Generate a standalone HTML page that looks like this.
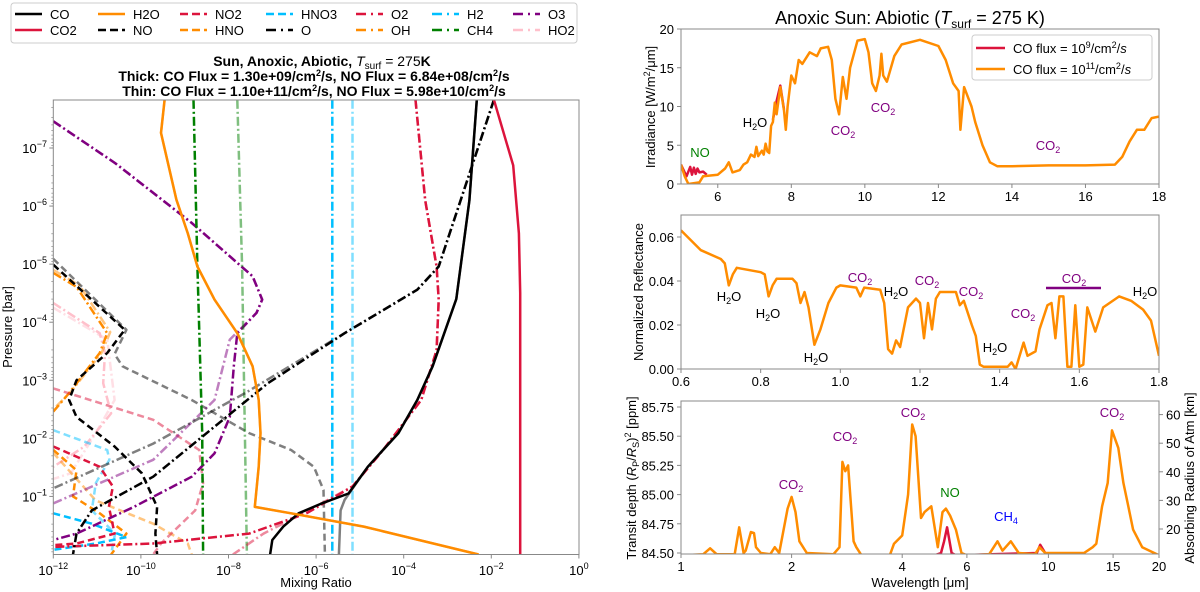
<!DOCTYPE html>
<html><head><meta charset="utf-8"><style>
html,body{margin:0;padding:0;background:#fff}
svg{display:block;font-family:"Liberation Sans","DejaVu Sans",sans-serif}
</style></head><body>
<svg id="fig" width="1200" height="592" viewBox="0 0 1200 592" xmlns="http://www.w3.org/2000/svg">
<defs>
<clipPath id="clipL"><rect x="53.3" y="100" width="525.7" height="454.5"/></clipPath>
<clipPath id="clipA"><rect x="681" y="29" width="478" height="155"/></clipPath>
<clipPath id="clipB"><rect x="681" y="215" width="478" height="154"/></clipPath>
<clipPath id="clipC"><rect x="681" y="401" width="478" height="153"/></clipPath>
</defs>
<g id="left-lines" clip-path="url(#clipL)"></g>
<g id="left-axes"></g>
<g id="rA" clip-path="url(#clipA)"></g>
<g id="rB" clip-path="url(#clipB)"></g>
<g id="rC" clip-path="url(#clipC)"></g>
<g id="raxes"></g>

<g>
<rect x="11" y="3" width="566" height="40" rx="3" fill="#fff" stroke="#ccc" stroke-width="1"/>
</g>
<g id="legend-items"></g>

<g font-weight="bold" font-size="14" text-anchor="middle">
<text x="322" y="66">Sun, Anoxic, Abiotic, <tspan font-style="italic" font-weight="normal">T</tspan><tspan font-size="10" dy="3" font-weight="normal">surf</tspan><tspan dy="-3" font-weight="normal"> = 275</tspan>K</text>
<text x="314" y="81">Thick: CO Flux = 1.30e+09/cm<tspan font-size="9" dy="-5">2</tspan><tspan dy="5">/s, NO Flux = 6.84e+08/cm</tspan><tspan font-size="9" dy="-5">2</tspan><tspan dy="5">/s</tspan></text>
<text x="314" y="96">Thin: CO Flux = 1.10e+11/cm<tspan font-size="9" dy="-5">2</tspan><tspan dy="5">/s, NO Flux = 5.98e+10/cm</tspan><tspan font-size="9" dy="-5">2</tspan><tspan dy="5">/s</tspan></text>
</g>
<text x="316" y="587" font-size="13" text-anchor="middle">Mixing Ratio</text>
<text transform="translate(12,327) rotate(-90)" font-size="13" text-anchor="middle">Pressure [bar]</text>

<text x="910" y="24" font-size="18" text-anchor="middle">Anoxic Sun: Abiotic (<tspan font-style="italic">T</tspan><tspan font-size="12" dy="4">surf</tspan><tspan dy="-4"> = 275 K)</tspan></text>
<text transform="translate(655,107) rotate(-90)" font-size="13" text-anchor="middle">Irradiance [W/m<tspan font-size="9" dy="-5">2</tspan><tspan dy="5">/μm]</tspan></text>
<text transform="translate(643,292) rotate(-90)" font-size="13" text-anchor="middle">Normalized Reflectance</text>
<text transform="translate(636,478) rotate(-90)" font-size="13" text-anchor="middle">Transit depth (<tspan font-style="italic">R</tspan><tspan font-size="9" dy="3">P</tspan><tspan dy="-3">/</tspan><tspan font-style="italic">R</tspan><tspan font-size="9" dy="3">S</tspan><tspan dy="-3">)</tspan><tspan font-size="9" dy="-5">2</tspan><tspan dy="5"> [ppm]</tspan></text>
<text transform="translate(1194,478) rotate(-90)" font-size="13" text-anchor="middle">Absorbing Radius of Atm [km]</text>
<text x="920" y="587" font-size="13" text-anchor="middle">Wavelength [μm]</text>

<g>
<rect x="972" y="35" width="180" height="45" rx="3" fill="#fff" stroke="#ccc"/>
<line x1="976" y1="48" x2="1005" y2="48" stroke="#dc143c" stroke-width="2.5"/>
<text x="1013" y="53" font-size="13">CO flux = 10<tspan font-size="9" dy="-5">9</tspan><tspan dy="5">/cm</tspan><tspan font-size="9" dy="-5">2</tspan><tspan dy="5">/</tspan><tspan font-style="italic">s</tspan></text>
<line x1="976" y1="69" x2="1005" y2="69" stroke="#ff8c00" stroke-width="2.5"/>
<text x="1013" y="74" font-size="13">CO flux = 10<tspan font-size="9" dy="-5">11</tspan><tspan dy="5">/cm</tspan><tspan font-size="9" dy="-5">2</tspan><tspan dy="5">/</tspan><tspan font-style="italic">s</tspan></text>
</g>

<g font-size="13" text-anchor="middle">
<text x="700" y="157" fill="#008000">NO</text>
<text x="755" y="127" fill="#000">H<tspan font-size="9" dy="3">2</tspan><tspan dy="-3">O</tspan></text>
<text x="843" y="135" fill="#800080">CO<tspan font-size="9" dy="3">2</tspan></text>
<text x="883" y="112" fill="#800080">CO<tspan font-size="9" dy="3">2</tspan></text>
<text x="1048" y="150" fill="#800080">CO<tspan font-size="9" dy="3">2</tspan></text>

<text x="729" y="301">H<tspan font-size="9" dy="3">2</tspan><tspan dy="-3">O</tspan></text>
<text x="768" y="318">H<tspan font-size="9" dy="3">2</tspan><tspan dy="-3">O</tspan></text>
<text x="816" y="362">H<tspan font-size="9" dy="3">2</tspan><tspan dy="-3">O</tspan></text>
<text x="860" y="282" fill="#800080">CO<tspan font-size="9" dy="3">2</tspan></text>
<text x="896" y="296">H<tspan font-size="9" dy="3">2</tspan><tspan dy="-3">O</tspan></text>
<text x="927" y="285" fill="#800080">CO<tspan font-size="9" dy="3">2</tspan></text>
<text x="971" y="296" fill="#800080">CO<tspan font-size="9" dy="3">2</tspan></text>
<text x="995" y="352">H<tspan font-size="9" dy="3">2</tspan><tspan dy="-3">O</tspan></text>
<text x="1023" y="318" fill="#800080">CO<tspan font-size="9" dy="3">2</tspan></text>
<text x="1074" y="283" fill="#800080">CO<tspan font-size="9" dy="3">2</tspan></text>
<line x1="1046" y1="288" x2="1101" y2="288" stroke="#800080" stroke-width="2.5"/>
<text x="1145" y="296">H<tspan font-size="9" dy="3">2</tspan><tspan dy="-3">O</tspan></text>

<text x="791" y="489" fill="#800080">CO<tspan font-size="9" dy="3">2</tspan></text>
<text x="845" y="441" fill="#800080">CO<tspan font-size="9" dy="3">2</tspan></text>
<text x="913" y="417" fill="#800080">CO<tspan font-size="9" dy="3">2</tspan></text>
<text x="950" y="497" fill="#008000">NO</text>
<text x="1006" y="521" fill="#0000ff">CH<tspan font-size="9" dy="3">4</tspan></text>
<text x="1112" y="417" fill="#800080">CO<tspan font-size="9" dy="3">2</tspan></text>
</g>
</svg>
<script>
// ===== Left panel data: log10(mixing ratio) and log10(pressure [bar]) =====
const CO_thick_lx=[-2.33,-2.5,-2.8,-3.34,-3.69,-4.12,-4.82,-5.26,-5.87,-6.4,-6.75,-7.0,-7.05];
const CO_thick_lp=[-7.83,-6.1,-4.4,-3.24,-2.66,-2.09,-1.51,-1.05,-0.88,-0.71,-0.48,-0.25,0];
const CO_thin_lx=[-2.33,-2.5,-2.8,-3.34,-3.69,-4.12,-4.82,-5.2,-5.35,-5.44,-5.48];
const CO_thin_lp=[-7.83,-6.1,-4.4,-3.24,-2.66,-2.09,-1.51,-1.1,-0.94,-0.76,0];
const CO2_lx=[-1.94,-1.5,-1.37,-1.34,-1.34];
const CO2_lp=[-7.83,-6.7,-5.53,-4.5,0];
const H2O_lx=[-9.46,-9.54,-9.19,-8.93,-8.71,-8.32,-7.8,-7.45,-7.31,-7.27,-7.31,-7.4,-6.57,-4.91,-2.29];
const H2O_lp=[-7.83,-7.26,-6.11,-5.53,-4.96,-4.39,-3.81,-3.24,-2.66,-2.09,-1.51,-0.82,-0.71,-0.48,0];
const NO_thick_lx=[-12,-10.37,-10.77,-11.47,-11.64,-11.47,-10.6,-9.98,-9.63,-9.67,-9.63];
const NO_thick_lp=[-4.99,-3.87,-3.47,-3.0,-2.66,-2.37,-1.86,-1.4,-0.82,-0.36,0];
const NO_thin_lx=[-12,-10.33,-10.6,-10.42,-8.84,-7.53,-6.57,-6.05,-5.83,-5.8];
const NO_thin_lp=[-5.09,-3.87,-3.45,-3.24,-2.66,-2.09,-1.8,-1.51,-1.11,0];
const NO2_thick_lx=[-12,-10.94,-10.64,-10.73,-10.6,-11.47,-12];
const NO2_thick_lp=[-1.86,-1.51,-1.17,-0.82,-0.36,-0.19,-0.16];
const NO2_thin_lx=[-12,-9.72,-8.67,-8.58,-8.76,-9.54,-9.72];
const NO2_thin_lp=[-2.86,-2.32,-1.8,-1.23,-0.76,-0.19,0];
const HNO_thick_lx=[-12,-11.47,-11.55,-10.94,-10.33,-10.68];
const HNO_thick_lp=[-1.8,-1.45,-1.0,-0.71,-0.36,0];
const HNO_thin_lx=[-12,-11.03,-9.72,-8.93,-8.84];
const HNO_thin_lp=[-1.75,-0.93,-0.53,-0.19,0];
const HNO3_thick_lx=[-12,-11.12,-10.33,-11.03,-12];
const HNO3_thick_lp=[-0.71,-0.53,-0.3,-0.19,-0.08];
const HNO3_thin_lx=[-12,-10.77,-10.72,-11.03,-11.12,-10.59,-10.68];
const HNO3_thin_lp=[-2.14,-1.8,-1.63,-1.23,-0.76,-0.36,0];
const O_thick_lx=[-1.94,-3.2,-3.69,-5.35,-7.1,-8.32,-9.72,-11.12,-11.47,-11.55];
const O_thick_lp=[-7.83,-4.96,-4.56,-3.81,-2.95,-2.2,-1.34,-0.76,-0.36,0];
const O_thin_lx=[-1.94,-3.2,-3.69,-5.35,-7.62,-9.72,-12];
const O_thin_lp=[-7.83,-4.96,-4.56,-3.81,-2.78,-1.91,-1.14];
const O2_thick_lx=[-3.73,-3.51,-3.25,-3.2,-3.25,-3.6,-4.47,-5.17,-6.22,-7.53,-9.72,-12];
const O2_thick_lp=[-7.83,-6.1,-4.96,-4.39,-3.52,-2.66,-1.8,-1.17,-0.71,-0.36,-0.19,-0.13];
const O2_thin_lx=[-3.73,-3.51,-3.25,-3.2,-3.25,-3.6,-4.47,-5.17,-6.3,-7.2,-7.9];
const O2_thin_lp=[-7.83,-6.1,-4.96,-4.39,-3.52,-2.66,-1.8,-1.17,-0.71,-0.36,0];
const OH_thick_lx=[-12,-11.47,-10.77,-10.94,-11.64,-12];
const OH_thick_lp=[-4.85,-4.61,-3.81,-3.47,-2.78,-2.46];
const OH_thin_lx=[-12,-11.4,-10.7,-10.9,-11.6,-12];
const OH_thin_lp=[-4.9,-4.63,-3.83,-3.47,-2.8,-2.5];
const H2_thick_lx=[-5.63,-5.63];
const H2_thick_lp=[-7.83,0];
const H2_thin_lx=[-5.17,-5.17];
const H2_thin_lp=[-7.83,0];
const CH4_thick_lx=[-8.8,-8.71,-8.6,-8.58];
const CH4_thick_lp=[-7.83,-4.96,-2.09,0];
const CH4_thin_lx=[-7.8,-7.69,-7.58];
const CH4_thin_lp=[-7.83,-4.96,0];
const O3_thick_lx=[-12,-10.59,-8.84,-7.45,-7.23,-7.36,-7.8,-7.88,-7.97,-8.32,-8.84,-10.16,-11.47,-12];
const O3_thick_lp=[-7.46,-6.74,-5.71,-4.79,-4.39,-4.16,-3.81,-3.24,-2.37,-1.74,-1.34,-0.82,-0.36,-0.25];
const O3_thin_lx=[-12,-10.59,-8.84,-7.45,-7.23,-7.36,-7.97,-8.32,-9.72,-12];
const O3_thin_lp=[-7.46,-6.74,-5.71,-4.79,-4.39,-4.16,-3.7,-2.66,-1.63,-0.88];
const HO2_thick_lx=[-12,-10.94,-10.82,-10.86,-10.68,-11.29,-12];
const HO2_thick_lp=[-4.33,-3.81,-3.47,-2.95,-2.43,-1.86,-1.51];
const HO2_thin_lx=[-12,-10.77,-10.6,-11.03,-11.6,-12];
const HO2_thin_lp=[-4.25,-3.7,-2.66,-2.09,-1.4,-1.3];

const xTickExp=[-12,-10,-8,-6,-4,-2,0];
const yTickExp=[-7,-6,-5,-4,-3,-2,-1];

// ===== Right panels data =====
const irrWl=[5.0,5.1,5.2,5.5,5.6,6.0,6.2,6.3,6.4,6.6,6.7,6.8,6.9,7.0,7.05,7.1,7.2,7.25,7.3,7.35,7.4,7.45,7.5,7.55,7.6,7.7,7.8,7.85,7.9,8.0,8.1,8.2,8.3,8.5,8.7,8.8,9.0,9.1,9.2,9.3,9.4,9.5,9.6,9.8,10.0,10.1,10.2,10.3,10.4,10.45,10.5,10.6,10.8,11.0,11.5,12.0,12.2,12.4,12.55,12.6,12.7,12.9,13.0,13.2,13.4,13.6,14,15,16,16.8,17.0,17.2,17.4,17.6,17.8,18];
const irrHigh=[2.5,1,0,0.2,1,1.2,2,2.8,1.5,1.8,2.5,2.8,3.8,3.5,4.8,3.6,4.3,3.8,5.2,4.2,4,7.5,8,10.5,9,12.5,9.5,7,10,14,13,16,15.5,17,16.5,17.5,17.7,16,11,9,13.8,11,15,18.5,18.7,17,13,12,14,16.8,14,13.2,16.5,18,18.6,17.8,16,13,12,7,12.5,10,8,5,2.8,2.3,2.3,2.4,2.4,2.5,3.5,5.5,7,7,8.5,8.7];
const irrLowWl1=[5.0,5.15,5.25,5.3,5.35,5.4,5.45,5.5,5.6,5.7];
const irrLow1=[2.5,1,2.2,1.2,2.1,1.3,2,1.5,1.6,1.2];
const irrLowWl2=[7.5,7.6,7.7,7.8];
const irrLow2=[8.3,10.7,12.7,9.6];

const refWl=[0.6,0.65,0.7,0.71,0.72,0.73,0.74,0.8,0.81,0.82,0.83,0.84,0.88,0.89,0.9,0.91,0.92,0.935,0.95,0.97,0.99,1.0,1.04,1.05,1.06,1.1,1.11,1.12,1.13,1.14,1.15,1.17,1.18,1.19,1.2,1.21,1.22,1.23,1.24,1.25,1.29,1.3,1.31,1.33,1.34,1.35,1.36,1.42,1.43,1.44,1.46,1.47,1.49,1.5,1.52,1.53,1.54,1.55,1.56,1.57,1.58,1.59,1.6,1.61,1.62,1.64,1.66,1.7,1.73,1.76,1.78,1.8];
const refVal=[0.063,0.054,0.050,0.048,0.038,0.043,0.046,0.044,0.043,0.033,0.038,0.041,0.041,0.039,0.03,0.035,0.028,0.011,0.018,0.03,0.037,0.038,0.037,0.033,0.037,0.036,0.03,0.009,0.007,0.013,0.01,0.028,0.030,0.032,0.03,0.014,0.03,0.018,0.032,0.035,0.035,0.029,0.031,0.02,0.015,0.002,0.001,0.001,0.003,0,0.012,0.006,0.008,0.018,0.029,0.03,0.014,0.033,0.033,0.001,0.001,0.029,0.001,0.002,0.028,0.017,0.028,0.033,0.031,0.027,0.022,0.006];

const trWl=[1.0,1.15,1.2,1.25,1.4,1.44,1.48,1.5,1.55,1.58,1.6,1.65,1.75,1.8,1.85,1.95,2.0,2.05,2.1,2.2,2.6,2.7,2.75,2.8,2.85,2.95,3.0,3.1,3.7,3.8,4.0,4.15,4.26,4.35,4.5,4.6,4.8,5.0,5.15,5.26,5.4,5.6,5.8,6.0,6.9,7.27,7.5,7.9,8.3,9.2,9.46,9.8,10.5,12.5,13.2,13.5,14.0,14.5,14.9,15.5,16.0,16.5,17.0,18.0,20];
const trHigh=[84.48,84.49,84.54,84.49,84.49,84.72,84.5,84.52,84.68,84.67,84.55,84.5,84.49,84.55,84.5,84.88,84.98,84.85,84.6,84.5,84.49,84.55,85.28,85.2,85.25,84.6,84.55,84.48,84.48,84.58,84.65,85.0,85.6,85.5,84.8,84.85,84.9,84.55,84.85,84.88,84.82,84.7,84.5,84.48,84.49,84.6,84.52,84.6,84.5,84.49,84.55,84.5,84.5,84.5,84.55,84.58,84.9,85.1,85.55,85.4,85.1,84.9,84.7,84.55,84.48];
const trLowWl=[4.9,5.1,5.2,5.3,5.45,5.6,9.3,9.5,9.8];
const trLow=[84.48,84.5,84.6,84.72,84.5,84.48,84.5,84.57,84.5];

const legendNames=["CO","CO2","H2O","NO","NO2","HNO","HNO3","O","O2","OH","H2","CH4","O3","HO2"];
const legendColors=["#000","#dc143c","#ff8c00","#000","#dc143c","#ff8c00","#00bfff","#000","#dc143c","#ff8c00","#00bfff","#008000","#800080","#ffc0cb"];
const legendStyles=["s","s","s","d","d","d","d","dd","dd","dd","dd","dd","dd","dd"];

const NS="http://www.w3.org/2000/svg";
function mk(tag,attrs,parent){const e=document.createElementNS(NS,tag);for(const k in attrs)e.setAttribute(k,attrs[k]);parent.appendChild(e);return e;}

const Lx=lx=>53.3+(lx+12)*43.8;
const Ly=lp=>148+(lp+7)*58.07;
const Ax=w=>681+(w-5)/13*478, Ay=v=>184-v*7.75;
const Bx=w=>681+(w-0.6)/1.2*478, By=v=>369-v*2200;
const Cx=w=>681+Math.log10(w)/Math.log10(20)*478, Cy=v=>553-(v-84.5)*116.8;
const Ckm=k=>529-(k-20)*2.86;

const dashMap={s:null,d:"7,4",dd:"9,3,2,3"};

const LL=document.getElementById('left-lines');
function drawLeft(lx,lp,color,style,thin,name){
  const d=lx.map((v,i)=>(i?'L':'M')+Lx(v).toFixed(1)+','+Ly(lp[i]).toFixed(1)).join('');
  const p=mk('path',{d:d,fill:'none',stroke:color,'stroke-width':2.5,'stroke-linejoin':'round'},LL);
  if(thin)p.setAttribute('stroke-opacity','0.5');
  if(dashMap[style])p.setAttribute('stroke-dasharray',dashMap[style]);
  
  
}
const series=[
 [HO2_thin_lx,HO2_thin_lp,"#ffc0cb","dd",1,"ho2-thin"],[HO2_thick_lx,HO2_thick_lp,"#ffc0cb","dd",0,"ho2-thick"],
 [OH_thin_lx,OH_thin_lp,"#ff8c00","dd",1,"oh-thin"],[OH_thick_lx,OH_thick_lp,"#ff8c00","dd",0,"oh-thick"],
 [HNO_thin_lx,HNO_thin_lp,"#ff8c00","d",1,"hno-thin"],[HNO_thick_lx,HNO_thick_lp,"#ff8c00","d",0,"hno-thick"],
 [HNO3_thin_lx,HNO3_thin_lp,"#00bfff","d",1,"hno3-thin"],[HNO3_thick_lx,HNO3_thick_lp,"#00bfff","d",0,"hno3-thick"],
 [NO2_thin_lx,NO2_thin_lp,"#dc143c","d",1,"no2-thin"],[NO2_thick_lx,NO2_thick_lp,"#dc143c","d",0,"no2-thick"],
 [NO_thin_lx,NO_thin_lp,"#000","d",1,"no-thin"],[NO_thick_lx,NO_thick_lp,"#000","d",0,"no-thick"],
 [O3_thin_lx,O3_thin_lp,"#800080","dd",1,"o3-thin"],[O3_thick_lx,O3_thick_lp,"#800080","dd",0,"o3-thick"],
 [CH4_thin_lx,CH4_thin_lp,"#008000","dd",1,"ch4-thin"],[CH4_thick_lx,CH4_thick_lp,"#008000","dd",0,"ch4-thick"],
 [H2_thin_lx,H2_thin_lp,"#00bfff","dd",1,"h2-thin"],[H2_thick_lx,H2_thick_lp,"#00bfff","dd",0,"h2-thick"],
 [O2_thin_lx,O2_thin_lp,"#dc143c","dd",1,"o2-thin"],[O2_thick_lx,O2_thick_lp,"#dc143c","dd",0,"o2-thick"],
 [O_thin_lx,O_thin_lp,"#000","dd",1,"o-thin"],[O_thick_lx,O_thick_lp,"#000","dd",0,"o-thick"],
 [CO_thin_lx,CO_thin_lp,"#000","s",1,"co-thin"],[CO_thick_lx,CO_thick_lp,"#000","s",0,"co-thick"],
 [H2O_lx,H2O_lp,"#ff8c00","s",1,"h2o-thin"],[H2O_lx,H2O_lp,"#ff8c00","s",0,"h2o-thick"],
 [CO2_lx,CO2_lp,"#dc143c","s",0,"co2-line"]
];
series.forEach(s=>drawLeft(...s));

const LA=document.getElementById('left-axes');
mk('rect',{x:53.3,y:100,width:525.7,height:454.5,fill:'none',stroke:'#888','stroke-width':1},LA);
xTickExp.forEach(e=>{
  const x=Lx(e);
  mk('line',{x1:x,y1:554.5,x2:x,y2:558.5,stroke:'#888'},LA);
  const t=mk('text',{x:x,y:575,'font-size':13,'text-anchor':'middle'},LA);
  t.innerHTML='10<tspan font-size="9" dy="-6">'+(e<0?'\u2212'+(-e):e)+'</tspan>';
  
  
});
yTickExp.forEach(e=>{
  const y=Ly(e);
  mk('line',{x1:49.3,y1:y,x2:53.3,y2:y,stroke:'#888'},LA);
  for(let m=2;m<10;m++){const ym=Ly(e+Math.log10(m));if(ym>100)mk('line',{x1:51.3,y1:ym,x2:53.3,y2:ym,stroke:'#888','stroke-width':0.7},LA);}
  const t=mk('text',{x:47,y:y+5,'font-size':13,'text-anchor':'end'},LA);
  t.innerHTML='10<tspan font-size="9" dy="-6">\u2212'+(-e)+'</tspan>';
  
  
});
for(let m=2;m<10;m++){const ym=Ly(-8+Math.log10(m));if(ym>100)mk('line',{x1:51.3,y1:ym,x2:53.3,y2:ym,stroke:'#888','stroke-width':0.7},LA);}

const LG=document.getElementById('legend-items');
const colX=[15,98,180,266,356,432,513];
legendNames.forEach((n,i)=>{
  const c=Math.floor(i/2), r=i%2;
  const y=r?30:14;
  const ln=mk('line',{x1:colX[c],y1:y,x2:colX[c]+27,y2:y,stroke:legendColors[i],'stroke-width':2.5},LG);
  if(dashMap[legendStyles[i]])ln.setAttribute('stroke-dasharray',legendStyles[i]==='d'?'8,4':'10,5,2,5');
  const t=mk('text',{x:colX[c]+35,y:y+5,'font-size':13},LG);
  t.textContent=n;
  
  
});

function poly(g,xs,ys,fx,fy,color,name){
  const d=xs.map((v,i)=>(i?'L':'M')+fx(v).toFixed(1)+','+fy(ys[i]).toFixed(1)).join('');
  const p=mk('path',{d:d,fill:'none',stroke:color,'stroke-width':2.5,'stroke-linejoin':'round'},g);
  
  
}
const gA=document.getElementById('rA'),gB=document.getElementById('rB'),gC=document.getElementById('rC');
poly(gA,irrLowWl1,irrLow1,Ax,Ay,'#dc143c','irradiance-low-flux-no-band');
poly(gA,irrLowWl2,irrLow2,Ax,Ay,'#dc143c','irradiance-low-flux-h2o-band');
poly(gA,irrWl,irrHigh,Ax,Ay,'#ff8c00','irradiance-high-flux');
poly(gB,refWl,refVal,Bx,By,'#ff8c00','reflectance-line');
poly(gC,trLowWl,trLow,Cx,Cy,'#dc143c','transit-low-flux');
poly(gC,trWl,trHigh,Cx,Cy,'#ff8c00','transit-high-flux');

const RA=document.getElementById('raxes');
function frame(y0,h){mk('rect',{x:681,y:y0,width:478,height:h,fill:'none',stroke:'#888'},RA);}
frame(29,155);frame(215,154);frame(401,153);
function xt(x,yb,label){mk('line',{x1:x,y1:yb,x2:x,y2:yb+4,stroke:'#888'},RA);const t=mk('text',{x:x,y:yb+17,'font-size':13,'text-anchor':'middle'},RA);t.textContent=label;}
function yt(y,label,right){const x=right?1159:681;mk('line',{x1:x,y1:y,x2:right?x+4:x-4,y2:y,stroke:'#888'},RA);const t=mk('text',{x:right?x+7:x-7,y:y+5,'font-size':13,'text-anchor':right?'start':'end'},RA);t.textContent=label;}
const aXT=[6,8,10,12,14,16,18], aYT=[0,5,10,15,20];
aXT.forEach(v=>xt(Ax(v),184,String(v)));
aYT.forEach(v=>yt(Ay(v),String(v)));
const bXT=[0.6,0.8,1.0,1.2,1.4,1.6,1.8], bYT=[0,0.02,0.04,0.06];
bXT.forEach(v=>xt(Bx(v),369,v.toFixed(1)));
bYT.forEach(v=>yt(By(v),v.toFixed(2)));
const cXT=[1,2,4,6,10,15,20], cYT=[84.5,84.75,85,85.25,85.5,85.75], kmT=[20,30,40,50,60];
cXT.forEach(v=>xt(Cx(v),554,String(v)));
cYT.forEach(v=>yt(Cy(v),v.toFixed(2)));
kmT.forEach(v=>yt(Ckm(v),String(v),true));
</script>
</body></html>
